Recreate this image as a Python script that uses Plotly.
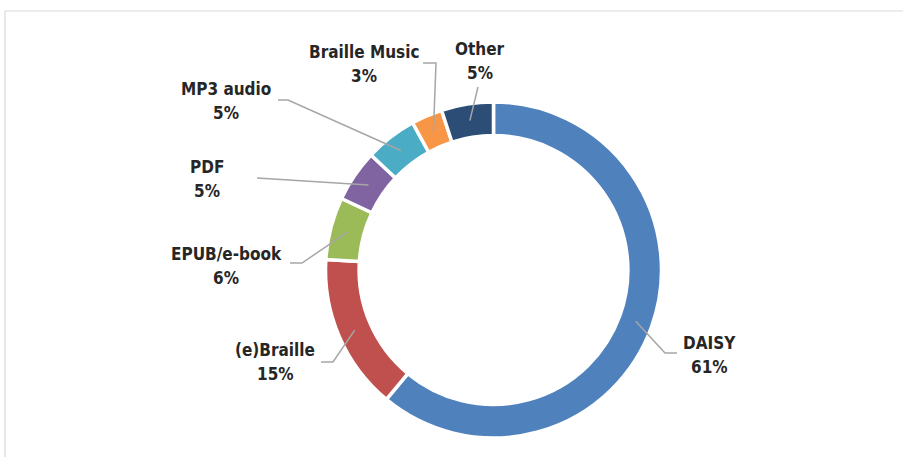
import math
import plotly.graph_objects as go

# ---- data ----
categories = ["DAISY", "(e)Braille", "EPUB/e-book", "PDF", "MP3 audio", "Braille Music", "Other"]
values = [61, 15, 6, 5, 5, 3, 5]
pct_labels = ["61%", "15%", "6%", "5%", "5%", "3%", "5%"]
colors = ["#4F81BD", "#C0504D", "#9BBB59", "#8064A2", "#4BACC6", "#F79646", "#2C4D75"]

W, H = 903, 457
CX, CY, R_OUT = 493.5, 270, 168
HOLE = 0.8
R_MID = R_OUT * (1 + HOLE) / 2
LINE_GAP = 24.5

# label layout (pixel positions of label centres) and leader-line outer points
label_pos = {
    "DAISY": (709, 355),
    "(e)Braille": (275, 362),
    "EPUB/e-book": (226, 266),
    "PDF": (207, 179),
    "MP3 audio": (226, 101),
    "Braille Music": (364, 64),
    "Other": (480, 61),
}
leader_outer = {
    "DAISY": [(677, 353), (665, 353)],
    "(e)Braille": [(321, 362), (333, 362)],
    "EPUB/e-book": [(290, 263), (302, 263)],
    "PDF": [(257, 178)],
    "MP3 audio": [(278, 100), (288, 100)],
    "Braille Music": [(423, 63), (436, 63)],
    "Other": [(478, 87)],
}

def px(x):
    return x / W

def py(y):
    return 1 - y / H

fig = go.Figure()
fig.add_trace(go.Pie(
    labels=categories, values=values, hole=HOLE, sort=False, direction="clockwise",
    rotation=0, marker=dict(colors=colors, line=dict(color="white", width=3.5)),
    textinfo="none", showlegend=False,
    domain=dict(x=[px(CX - R_OUT), px(CX + R_OUT)], y=[py(CY + R_OUT), py(CY - R_OUT)]),
))

shapes = []
# chart frame (top and left edges visible)
shapes.append(dict(type="line", xref="paper", yref="paper", x0=px(5), y0=py(11), x1=1.0, y1=py(11),
                   line=dict(color="#D9D9D9", width=1.2)))
shapes.append(dict(type="line", xref="paper", yref="paper", x0=px(5), y0=py(11), x1=px(5), y1=0,
                   line=dict(color="#D9D9D9", width=1.2)))

font = dict(family="Liberation Sans Narrow, DejaVu Sans Condensed, sans-serif",
            size=17, color="#262626", weight="bold")

total = sum(values)
cum = 0
annotations = []
for cat, v, pl in zip(categories, values, pct_labels):
    mid = (cum + v / 2) / total * 2 * math.pi
    cum += v
    ix = CX + R_MID * math.sin(mid)
    iy = CY - R_MID * math.cos(mid)
    pts = leader_outer[cat] + [(ix, iy)]
    path = "M " + " L ".join(f"{px(x)},{py(y)}" for x, y in pts)
    shapes.append(dict(type="path", xref="paper", yref="paper", path=path,
                       line=dict(color="#A6A6A6", width=1.5)))
    lx, ly = label_pos[cat]
    for txt, yy in ((cat, ly - LINE_GAP / 2), (pl, ly + LINE_GAP / 2)):
        annotations.append(dict(
            x=px(lx), y=py(yy), xref="paper", yref="paper", showarrow=False,
            text=txt, xanchor="center", yanchor="middle", align="center", font=font,
        ))

fig.update_layout(
    width=W, height=H, margin=dict(l=0, r=0, t=0, b=0),
    paper_bgcolor="white", plot_bgcolor="white",
    shapes=shapes, annotations=annotations,
)
fig.write_html("out.html", config={"displayModeBar": False},
               post_script="document.body.style.margin='0';")
